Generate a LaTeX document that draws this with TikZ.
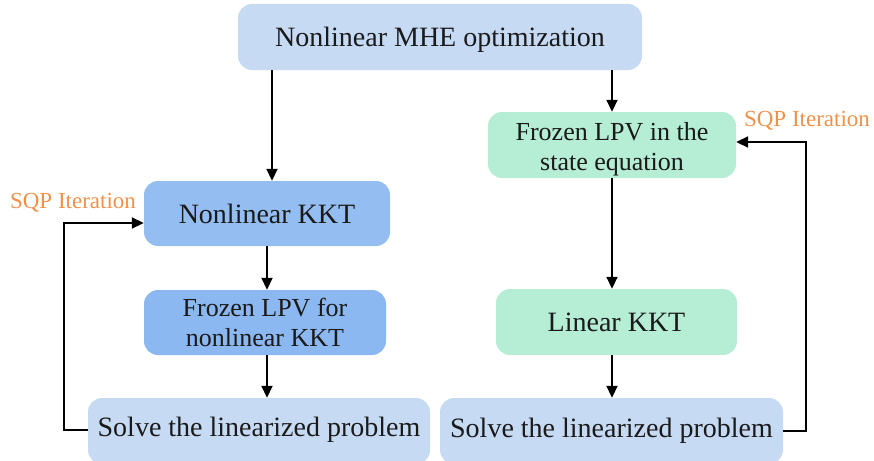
\documentclass[tikz,border=0pt]{standalone}
\usepackage{fontspec}
\setmainfont{Liberation Serif}
\usetikzlibrary{arrows.meta}
\definecolor{boxlight}{HTML}{C6DAF4}
\definecolor{boxmid}{HTML}{94BEF2}
\definecolor{boxdark}{HTML}{8BB8F0}
\definecolor{boxgreen}{HTML}{B5EDD5}
\definecolor{sqporange}{HTML}{F0914A}
\definecolor{txt}{HTML}{1A1A1A}
\newcommand{\shiftbox}[2]{\raisebox{#1}[\height][\depth]{#2}}
\newcommand{\twolines}[2]{\shiftbox{#1}{\begin{tabular}{@{}c@{}}#2\end{tabular}}}
\tikzset{
  box/.style={draw=none, rounded corners=14pt, text=txt, align=center, inner sep=0pt},
  bigtxt/.style={font=\fontsize{28}{30}\selectfont},
  smalltxt/.style={font=\fontsize{26}{30}\selectfont},
  conn/.style={line width=1.8pt, -{Triangle[length=12pt,width=11pt]}},
  sqp/.style={text=sqporange, font=\fontsize{23}{25}\selectfont, inner sep=0pt}
}
\begin{document}
\begin{tikzpicture}[x=1pt,y=-1pt]
\useasboundingbox (0,0) rectangle (874,460);
\begin{scope}
\clip (0,0) rectangle (874,460);
\node[box,bigtxt,fill=boxlight,minimum width=404pt,minimum height=66pt] (mhe) at (440,37) {\shiftbox{-3pt}{Nonlinear MHE optimization}};
\node[box,bigtxt,fill=boxmid,minimum width=246pt,minimum height=65pt] (nkkt) at (267,213.5) {Nonlinear KKT};
\node[box,smalltxt,fill=boxdark,minimum width=242pt,minimum height=65pt] (flpv) at (265,322.5) {\twolines{-3pt}{Frozen LPV for\\nonlinear KKT}};
\node[box,bigtxt,fill=boxlight,minimum width=342pt,minimum height=66pt] (solveL) at (259,431) {\shiftbox{1pt}{Solve the linearized problem}};
\node[box,smalltxt,fill=boxgreen,minimum width=248pt,minimum height=66pt] (fstate) at (612,145) {\twolines{-4pt}{Frozen LPV in the\\state equation}};
\node[box,bigtxt,fill=boxgreen,minimum width=241pt,minimum height=66pt] (lkkt) at (616.5,322) {Linear KKT};
\node[box,bigtxt,fill=boxlight,minimum width=343pt,minimum height=66pt] (solveR) at (611.5,431) {Solve the linearized problem};
\end{scope}
\node[sqp] (sqpL) at (73,203) {SQP Iteration};
\node[sqp] (sqpR) at (807,121) {SQP Iteration};
\coordinate (mL) at (272,70);
\coordinate (mR) at (612,70);
\draw[conn] (mL) -- (mL |- nkkt.north);
\draw[conn] (mR) -- (mR |- fstate.north);
\draw[conn] (nkkt.south -| 267,0) -- (flpv.north -| 267,0);
\draw[conn] (flpv.south -| 267,0) -- (solveL.north -| 267,0);
\draw[conn] (fstate.south -| 612,0) -- (lkkt.north -| 612,0);
\draw[conn] (lkkt.south -| 612,0) -- (solveR.north -| 612,0);
\coordinate (lA) at (solveL.west |- 0,430);
\coordinate (lB) at (nkkt.west |- 0,223);
\draw[conn] (lA) -- (64,430) -- (64,223) -- (lB);
\coordinate (rA) at (solveR.east |- 0,431);
\coordinate (rB) at (fstate.east |- 0,142);
\draw[conn] (rA) -- (806,431) -- (806,142) -- (rB);
\end{tikzpicture}
\end{document}
